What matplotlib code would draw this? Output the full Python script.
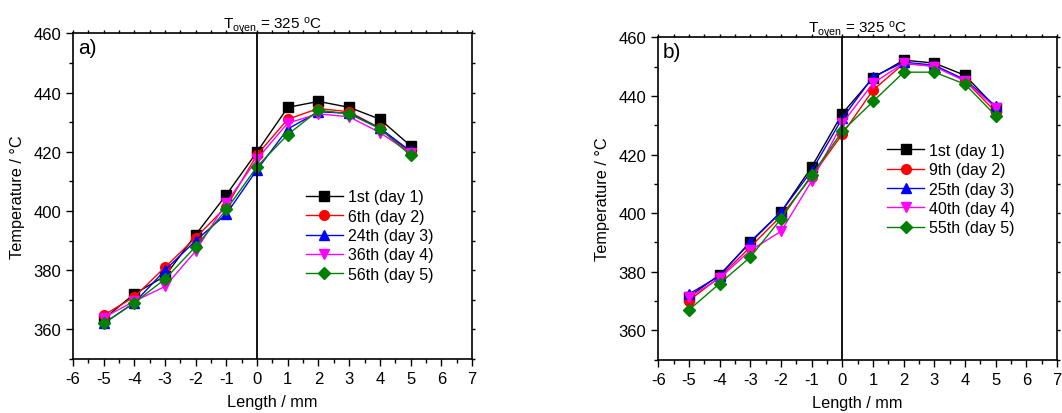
import matplotlib
matplotlib.use("Agg")
import matplotlib.pyplot as plt
from matplotlib.ticker import MultipleLocator

plt.rcParams['font.family'] = ['Liberation Sans', 'DejaVu Sans']
plt.rcParams['mathtext.fontset'] = 'custom'
plt.rcParams['mathtext.rm'] = 'Liberation Sans'
plt.rcParams['mathtext.it'] = 'Liberation Sans:italic'
plt.rcParams['axes.unicode_minus'] = False

length = [-5, -4, -3, -2, -1, 0, 1, 2, 3, 4, 5]

# panel a)
labels_a = ['1st (day 1)', '6th (day 2)', '24th (day 3)', '36th (day 4)', '56th (day 5)']
a_1st = [363.5, 372, 378, 392, 405.5, 420, 435, 437, 435, 431, 422]
a_6th = [364.8, 371, 381, 391, 401.5, 419, 431, 434.6, 433.5, 428, 419.6]
a_24th = [362, 369, 380, 390, 399, 414, 427.7, 433.5, 433, 428, 420.2]
a_36th = [364, 369.5, 374.5, 386.5, 402.8, 417.5, 429.7, 432.8, 431.8, 426.5, 419.5]
a_56th = [362, 369, 377, 388, 400.5, 415, 425.8, 434, 432.8, 427.8, 418.8]

# panel b)
labels_b = ['1st (day 1)', '9th (day 2)', '25th (day 3)', '40th (day 4)', '55th (day 5)']
b_1st = [371.5, 379, 390, 400.4, 415.8, 434, 446.2, 452.2, 451.2, 447, 436]
b_9th = [370.2, 378.2, 388.5, 399, 412.5, 427, 442, 451, 450.2, 445.2, 434.5]
b_25th = [372.4, 378.6, 390.3, 400.4, 414.5, 432.4, 446.5, 451.5, 450.5, 445.5, 436.5]
b_40th = [371.3, 377.8, 387.3, 393.8, 411, 430.7, 444.3, 451.2, 450, 445.1, 436]
b_55th = [367, 376, 385, 398.1, 413, 428, 438.1, 448.1, 448.1, 444, 433.2]

colors = ['black', '#ff0000', '#0000ff', '#ff00ff', '#008000']
markers = ['s', 'o', '^', 'v', 'D']
msizes = [6.5, 7, 7, 7, 6]


def draw_panel(ax, series, labels, tag, legend_pos):
    for ys, lab, c, m, ms in zip(series, labels, colors, markers, msizes):
        ax.plot(length, ys, color=c, marker=m, markersize=ms, linewidth=1, label=lab)
    ax.axvline(0, color='black', linewidth=1.3)
    ax.set_xlim(-6, 7)
    ax.set_ylim(350, 460)
    ax.xaxis.set_major_locator(MultipleLocator(1))
    ax.xaxis.set_minor_locator(MultipleLocator(0.5))
    ax.yaxis.set_major_locator(MultipleLocator(20))
    ax.yaxis.set_minor_locator(MultipleLocator(10))
    ax.tick_params(which='major', direction='out', length=5, width=1, labelsize=12)
    ax.tick_params(which='minor', direction='out', length=3, width=1)
    ax.tick_params(which='both', top=True, right=True)
    for spine in ax.spines.values():
        spine.set_linewidth(1.2)
    ax.set_xlabel('Length / mm', fontsize=11.7, labelpad=6)
    ax.set_ylabel('Temperature / °C', fontsize=11.7, labelpad=6)
    ax.set_title(r'T$_{\mathrm{oven}}$ = 325 $^{\mathrm{o}}$C', fontsize=11, pad=4)
    ax.text(0.012, 0.985, tag, transform=ax.transAxes, fontsize=15, va='top', ha='left')
    ax.legend(loc='upper left', bbox_to_anchor=legend_pos, frameon=False, fontsize=11.5,
              handlelength=2.3, handletextpad=0.3, labelspacing=0.27, borderpad=0)


fig = plt.figure(figsize=(10.62, 4.14), dpi=100)
ax1 = fig.add_axes([0.0687, 0.1304, 0.3757, 0.7867])
ax2 = fig.add_axes([0.6199, 0.1287, 0.3755, 0.7788])

draw_panel(ax1, [a_1st, a_6th, a_24th, a_36th, a_56th], labels_a, 'a)', (0.564, 0.545))
draw_panel(ax2, [b_1st, b_9th, b_25th, b_40th, b_55th], labels_b, 'b)', (0.554, 0.697))

# top/right mirror ticks are tiny in the original
for ax in (ax1, ax2):
    for tl in ax.xaxis.get_majorticklines()[1::2] + ax.xaxis.get_minorticklines()[1::2]:
        tl.set_markersize(2)
    for tl in ax.yaxis.get_majorticklines()[1::2] + ax.yaxis.get_minorticklines()[1::2]:
        tl.set_markersize(2)

fig.savefig('out.png', dpi=100)
